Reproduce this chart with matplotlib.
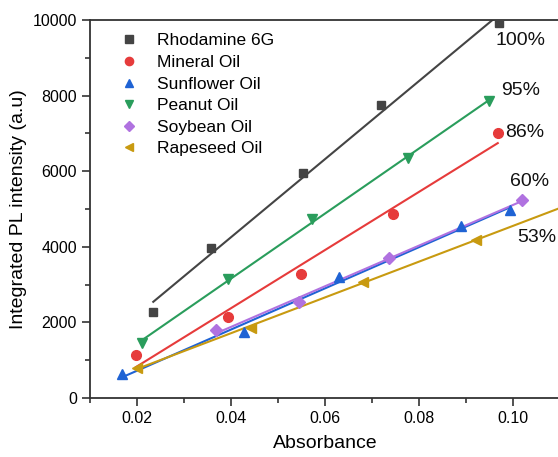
import numpy as np
import matplotlib
matplotlib.use("Agg")
import matplotlib.pyplot as plt
from matplotlib.ticker import MultipleLocator

plt.rcParams['font.family'] = ['Liberation Sans', 'DejaVu Sans']

# values
rho_x = [0.0234, 0.0357, 0.0552, 0.0719, 0.0970]
rho_y = [2267, 3976, 5960, 7760, 9930]

min_x = [0.0197, 0.0394, 0.0548, 0.0745, 0.0967]
min_y = [1138, 2143, 3280, 4868, 7020]

sun_x = [0.0168, 0.0426, 0.0630, 0.0888, 0.0994]
sun_y = [627, 1738, 3209, 4558, 4965]

pea_x = [0.0209, 0.0392, 0.0571, 0.0775, 0.0949]
pea_y = [1447, 3140, 4735, 6341, 7865]

soy_x = [0.0367, 0.0545, 0.0735, 0.1018]
soy_y = [1799, 2531, 3695, 5238]

rap_x = [0.0199, 0.0441, 0.0681, 0.0921]
rap_y = [790, 1860, 3077, 4180]

pct_labels = ["100%", "95%", "86%", "60%", "53%"]
pct_x = [0.1015, 0.1015, 0.1025, 0.1035, 0.1050]
pct_y = [9450, 8130, 7020, 5720, 4240]

series = [
    ("Rhodamine 6G", rho_x, rho_y, "s", "#444444", None),
    ("Mineral Oil", min_x, min_y, "o", "#e63b3b", None),
    ("Sunflower Oil", sun_x, sun_y, "^", "#1f63d4", None),
    ("Peanut Oil", pea_x, pea_y, "v", "#2a9d5c", None),
    ("Soybean Oil", soy_x, soy_y, "D", "#b072e0", None),
    ("Rapeseed Oil", rap_x, rap_y, "<", "#c89a10", 0.11),
]

fig = plt.figure(figsize=(5.58, 4.57), dpi=100)
ax = fig.add_axes([0.1618, 0.1291, 0.8423, 0.8271])

for name, x, y, m, c, xend in series:
    x = np.array(x)
    y = np.array(y)
    k, b = np.polyfit(x, y, 1)
    x1 = xend if xend else x.max()
    xs = np.array([x.min(), x1])
    ax.plot(xs, k * xs + b, color=c, lw=1.5, zorder=2)
    ms = 7 if m == "o" else (6 if m in ("s", "D") else 7.5)
    ax.plot(x, y, ls="none", marker=m, color=c, ms=ms, label=name, zorder=3)

for t, x, y in zip(pct_labels, pct_x, pct_y):
    ax.text(x, y, t, fontsize=14, ha="center", va="center", color="#111111")

ax.set_xlim(0.01, 0.11)
ax.set_ylim(0, 10000)
ax.xaxis.set_major_locator(MultipleLocator(0.02))
ax.xaxis.set_minor_locator(MultipleLocator(0.01))
ax.yaxis.set_major_locator(MultipleLocator(2000))
ax.yaxis.set_minor_locator(MultipleLocator(1000))
ax.set_xticks([0.02, 0.04, 0.06, 0.08, 0.10])
ax.set_xticklabels(["0.02", "0.04", "0.06", "0.08", "0.10"])
ax.tick_params(which="major", length=6, width=1.2, labelsize=11.5, direction="out", color="#333333")
ax.tick_params(which="minor", length=3.5, width=1.2, direction="out", color="#333333")
for s in ["left", "bottom", "top"]:
    ax.spines[s].set_linewidth(1.3)
    ax.spines[s].set_color("#333333")
ax.spines["right"].set_visible(False)

ax.set_xlabel("Absorbance", fontsize=14, labelpad=6)
ax.set_ylabel("Integrated PL intensity (a.u)", fontsize=14, labelpad=4)

leg = ax.legend(loc="upper left", frameon=False, fontsize=12.5, handletextpad=1.0,
                labelspacing=0.37, borderaxespad=0.3, handlelength=1.2,
                markerscale=0.85, bbox_to_anchor=(0.035, 0.997))

fig.savefig("out.png", dpi=100)
